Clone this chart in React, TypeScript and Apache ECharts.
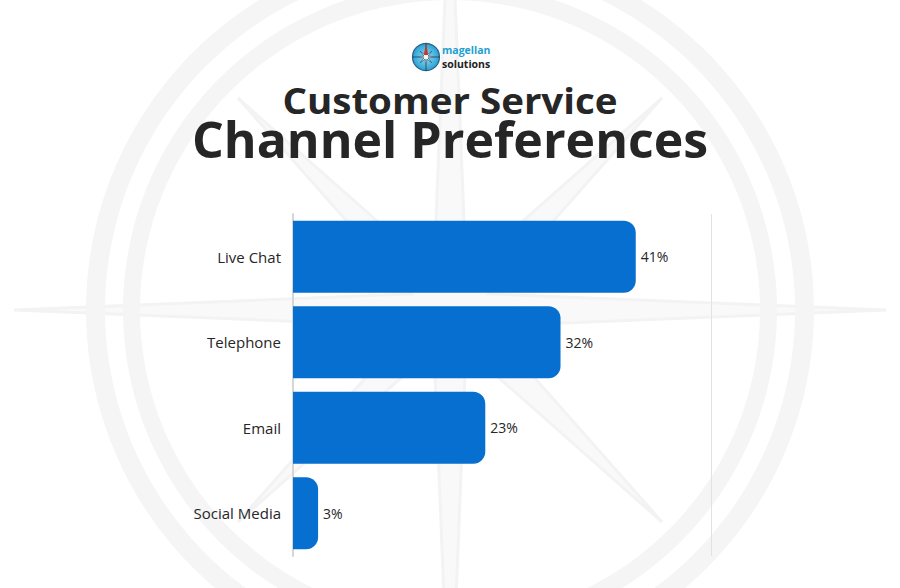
import React, { useEffect, useRef } from "react";
import * as echarts from "echarts";

const categories = ["Live Chat", "Telephone", "Email", "Social Media"];
const values = [41, 32, 23, 3];
const axisMax = 50;
const titleLine1 = "Customer Service";
const titleLine2 = "Channel Preferences";
const brandTop = "magellan";
const brandBottom = "solutions";

function starPoints(cx: number, cy: number, longR: number, diagR: number, inner: number) {
  const pts: number[][] = [];
  for (let k = 0; k < 16; k++) {
    const a = (k * Math.PI) / 8;
    const r = k % 4 === 0 ? longR : k % 2 === 0 ? diagR : inner;
    pts.push([cx + r * Math.cos(a), cy + r * Math.sin(a)]);
  }
  return pts;
}

export default function App() {
  const ref = useRef<HTMLDivElement>(null);
  useEffect(() => {
    if (!ref.current) return;
    const chart = echarts.init(ref.current, null, { renderer: "svg" });
    const cx = 450;
    const cy = 310;
    const logoX = 426;
    const logoY = 57;
    chart.setOption({
      animation: false,
      backgroundColor: "#ffffff",
      graphic: [
        {
          type: "group",
          silent: true,
          z: -10,
          children: [
            {
              type: "polygon",
              z: -10,
              shape: { points: starPoints(cx, cy, 436, 300, 42) },
              style: { fill: "#f9f9f9", stroke: "#f3f3f3", lineWidth: 3 },
            },
            {
              type: "ring",
              z: -9,
              shape: { cx, cy, r: 364, r0: 345 },
              style: { fill: "#f5f5f5" },
            },
            {
              type: "ring",
              z: -9,
              shape: { cx, cy, r: 327, r0: 310 },
              style: { fill: "#f5f5f5" },
            },
          ],
        },
        {
          type: "group",
          silent: true,
          children: [
            {
              type: "circle",
              shape: { cx: logoX, cy: logoY, r: 13.5 },
              style: {
                fill: new echarts.graphic.RadialGradient(0.5, 0.5, 0.6, [
                  { offset: 0, color: "#8fe0f7" },
                  { offset: 1, color: "#1594cc" },
                ]),
                stroke: "#2a5f86",
                lineWidth: 1.2,
              },
            },
            {
              type: "polygon",
              shape: { points: starPoints(logoX, logoY, 13.5, 8, 2.2) },
              style: { fill: "#ffffff", stroke: "#1d3d5a", lineWidth: 0.6 },
            },
            {
              type: "polygon",
              shape: {
                points: [
                  [logoX, logoY - 13.5],
                  [logoX + 2.2, logoY - 2],
                  [logoX - 2.2, logoY - 2],
                ],
              },
              style: { fill: "#c0392b" },
            },
            {
              type: "text",
              x: 442,
              y: 49.5,
              style: {
                text: brandTop,
                fill: "#1e9fd0",
                font: "bold 10.5px 'Open Sans', sans-serif",
                textAlign: "left",
                textVerticalAlign: "middle",
                lineHeight: 10.5,
              },
            },
            {
              type: "text",
              x: 442,
              y: 63.5,
              style: {
                text: brandBottom,
                fill: "#222222",
                font: "bold 10.5px 'Open Sans', sans-serif",
                textAlign: "left",
                textVerticalAlign: "middle",
                lineHeight: 10.5,
              },
            },
          ],
        },
        {
          type: "text",
          x: 450,
          y: 101,
          scaleX: 1.1,
          style: {
            text: titleLine1,
            fill: "#262626",
            font: "bold 35px 'Open Sans', sans-serif",
            textAlign: "center",
            textVerticalAlign: "middle",
            lineHeight: 28,
          },
        },
        {
          type: "text",
          x: 450,
          y: 139,
          style: {
            text: titleLine2,
            fill: "#262626",
            font: "bold 50px 'Open Sans', sans-serif",
            textAlign: "center",
            textVerticalAlign: "middle",
            lineHeight: 40,
          },
        },
      ],
      grid: { left: 293, right: 189, top: 214, bottom: 32, containLabel: false },
      xAxis: {
        type: "value",
        min: 0,
        max: axisMax,
        interval: axisMax,
        axisLabel: { show: false },
        axisLine: { show: false },
        axisTick: { show: false },
        splitLine: { show: true, lineStyle: { color: "#e2e2e2", width: 1 } },
      },
      yAxis: {
        type: "category",
        data: categories,
        inverse: true,
        axisTick: { show: false },
        axisLine: { show: true, lineStyle: { color: "#d6d6d6", width: 2 } },
        axisLabel: {
          color: "#262626",
          fontSize: 15,
          fontFamily: "'Open Sans', sans-serif",
          margin: 12,
        },
      },
      series: [
        {
          type: "bar",
          data: values,
          barCategoryGap: "16%",
          itemStyle: { color: "#076fcf", borderRadius: [0, 12, 12, 0] },
          label: {
            show: true,
            position: "right",
            distance: 5,
            formatter: "{c}%",
            color: "#262626",
            fontSize: 14,
            fontFamily: "'Open Sans', sans-serif",
          },
        },
      ],
    });
    return () => chart.dispose();
  }, []);
  return (
    <div
      ref={ref}
      style={{ position: "absolute", left: 0, top: 0, width: 900, height: 588 }}
    />
  );
}
